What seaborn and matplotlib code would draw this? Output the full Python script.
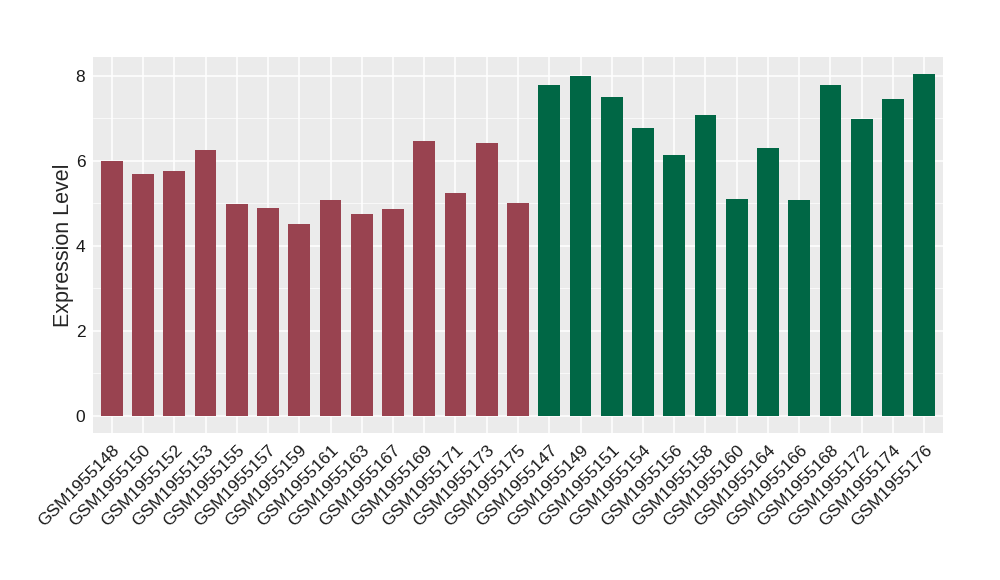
import matplotlib
matplotlib.use("Agg")
import matplotlib.pyplot as plt
import seaborn as sns
import pandas as pd
from matplotlib.ticker import MultipleLocator

samples = ["GSM1955148", "GSM1955150", "GSM1955152", "GSM1955153", "GSM1955155",
           "GSM1955157", "GSM1955159", "GSM1955161", "GSM1955163", "GSM1955167",
           "GSM1955169", "GSM1955171", "GSM1955173", "GSM1955175",
           "GSM1955147", "GSM1955149", "GSM1955151", "GSM1955154", "GSM1955156",
           "GSM1955158", "GSM1955160", "GSM1955164", "GSM1955166", "GSM1955168",
           "GSM1955172", "GSM1955174", "GSM1955176"]
values = [5.99, 5.69, 5.76, 6.25, 4.98, 4.89, 4.51, 5.08, 4.75, 4.86, 6.46, 5.24, 6.42, 5.00,
          7.78, 7.99, 7.50, 6.77, 6.13, 7.07, 5.10, 6.30, 5.08, 7.78, 6.98, 7.45, 8.04]
groups = ["A"] * 14 + ["B"] * 13
palette = {"A": "#994350", "B": "#006745"}

df = pd.DataFrame({"sample": samples, "value": values, "group": groups})

sns.set_style("white")
plt.rcParams["font.family"] = ["Liberation Sans", "DejaVu Sans"]
fig = plt.figure(figsize=(10, 5.8), dpi=100)
ax = fig.add_axes([0.093, 0.2534, 0.85, 0.6483])
ax.set_facecolor("#EBEBEB")

sns.barplot(data=df, x="sample", y="value", hue="group", palette=palette,
            width=0.7, dodge=False, legend=False, ax=ax, order=samples,
            saturation=1, linewidth=0, edgecolor="none", zorder=3)

n = len(samples)
ax.set_xlim(-0.6, n - 1 + 0.6)
ax.set_ylim(-0.40, 8.44)
ax.yaxis.set_major_locator(MultipleLocator(2))
ax.yaxis.set_minor_locator(MultipleLocator(1))
ax.grid(which="major", color="white", linewidth=1.1, zorder=0)
ax.grid(which="minor", axis="y", color="white", linewidth=0.5, zorder=0)
ax.set_axisbelow(True)
for s in ax.spines.values():
    s.set_visible(False)

ax.tick_params(axis="both", which="major", length=3.5, width=0.8, color="#333333",
               labelsize=12.5, labelcolor="#1a1a1a", pad=2)
ax.tick_params(axis="x", which="major", pad=3)
ax.tick_params(axis="y", which="minor", length=0)
plt.setp(ax.get_xticklabels(), rotation=45, ha="right", rotation_mode="anchor")
ax.set_xlabel("")
ax.set_ylabel("Expression Level", fontsize=15.5, labelpad=1)

fig.savefig("out.png", dpi=100)
